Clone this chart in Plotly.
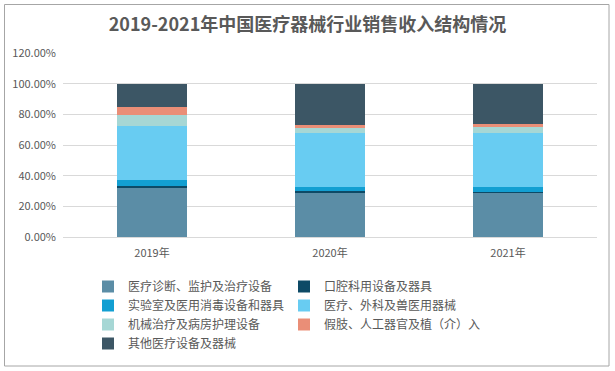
import plotly.graph_objects as go

years = ["2019年", "2020年", "2021年"]
series_names = [
    "医疗诊断、监护及治疗设备",
    "口腔科用设备及器具",
    "实验室及医用消毒设备和器具",
    "医疗、外科及兽医用器械",
    "机械治疗及病房护理设备",
    "假肢、人工器官及植（介）入器械",
    "其他医疗设备及器械",
]
diag = [0.324, 0.289, 0.288]
dental = [0.010, 0.008, 0.008]
lab = [0.040, 0.031, 0.031]
surgical = [0.352, 0.352, 0.352]
therapy = [0.070, 0.031, 0.037]
prosthesis = [0.053, 0.020, 0.022]
other = [0.151, 0.269, 0.262]
y_ticks = [0, 0.2, 0.4, 0.6, 0.8, 1.0, 1.2]

series_values = [diag, dental, lab, surgical, therapy, prosthesis, other]
colors = ["#5B8DA6", "#0D4A66", "#129FD2", "#68CCF2", "#A6D7D5", "#EA8E77", "#3C5665"]

W, H = 615, 371
ML, MR, MT, MB = 63, 18, 53, 134
PW, PH = W - ML - MR, H - MT - MB

fig = go.Figure()
for name, vals, col in zip(series_names, series_values, colors):
    fig.add_trace(go.Bar(x=years, y=vals, name=name, marker=dict(color=col, line=dict(width=0))))

def px_x(p):
    return (p - ML) / PW

def px_y(p):
    return (H - MB - p) / PH

fig.update_layout(
    width=W, height=H,
    margin=dict(l=ML, r=MR, t=MT, b=MB),
    barmode="stack",
    bargap=0.61,
    paper_bgcolor="white",
    plot_bgcolor="white",
    font=dict(family="Noto Sans CJK SC", color="#595959"),
    title=dict(text="<b>2019-2021年中国医疗器械行业销售收入结构情况</b>",
               x=0.5, xanchor="center", y=1 - 25 / H, yanchor="middle",
               font=dict(size=18, color="#595959", family="Noto Sans CJK SC")),
    showlegend=True,
    legend=dict(orientation="h", x=px_x(88), xanchor="left", y=px_y(272), yanchor="top",
                entrywidth=151, traceorder="normal",
                font=dict(size=12, color="#595959", family="Noto Sans CJK SC"),
                bgcolor="rgba(0,0,0,0)"),
    shapes=[dict(type="rect", xref="paper", yref="paper",
                 x0=px_x(4.5), x1=px_x(609), y0=px_y(366), y1=px_y(4.5),
                 line=dict(color="#A6A6A6", width=1), fillcolor="rgba(0,0,0,0)", layer="below")],
)
fig.update_xaxes(showgrid=False, showline=True, linecolor="#D9D9D9", ticks="",
                 ticklabelstandoff=6,
                 tickfont=dict(size=11, color="#595959", family="Noto Sans CJK SC"))
fig.update_yaxes(range=[0, 1.2], tickvals=y_ticks, tickformat=".2%", showgrid=True,
                 gridcolor="#D9D9D9", zeroline=False, showline=False, ticks="",
                 ticklabelstandoff=6,
                 tickfont=dict(size=11, color="#595959", family="Noto Sans CJK SC"))

fig.write_html("out.html", config={"displayModeBar": False},
               post_script="document.body.style.margin='0';")
